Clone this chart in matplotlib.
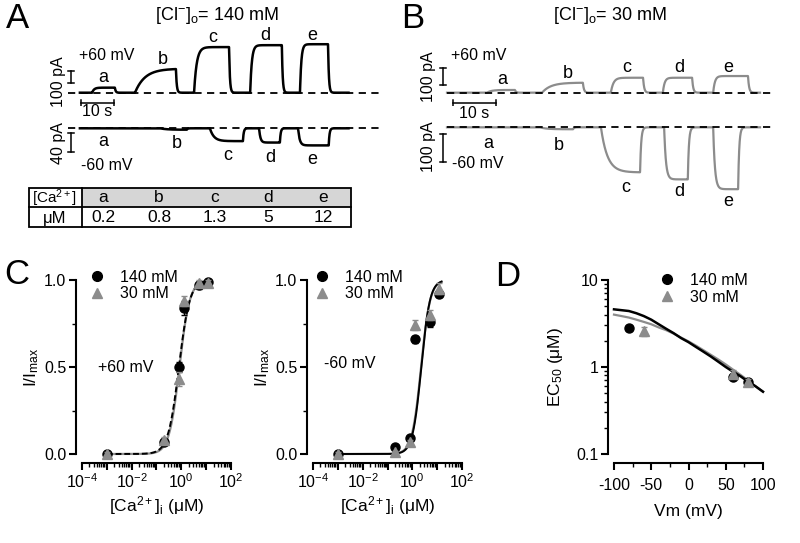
import numpy as np
import matplotlib
matplotlib.use("Agg")
import matplotlib.pyplot as plt
from matplotlib.lines import Line2D
from matplotlib.patches import Rectangle
from matplotlib.ticker import LogLocator, NullFormatter, FixedLocator

plt.rcParams.update({
    "font.family": "Liberation Sans",
    "mathtext.fontset": "custom",
    "mathtext.rm": "Liberation Sans",
    "mathtext.it": "Liberation Sans:italic",
    "mathtext.bf": "Liberation Sans:bold",
    "mathtext.default": "regular",
    "axes.unicode_minus": False,
})

GRAY = "#8c8c8c"
W, H = 800, 543

# ---------------- data ----------------
# current traces: pulses as (t_on s, t_off s, amplitude pA, rise tau s)
A_pos_pulses = [(7.3, 14.2, 42, 0.6), (20.3, 32.7, 200, 3.0), (38.2, 48.8, 380, 0.8),
                (55.2, 64.8, 396, 0.5), (70.3, 78.8, 404, 0.4)]
A_neg_pulses = [(27.9, 36.0, -3, 2.0), (43.0, 53.0, -27, 1.2), (57.9, 64.2, -30, 0.4),
                (69.7, 79.0, -36, 0.5)]
B_pos_pulses = [(9.3, 15.8, 16, 1.0), (22.1, 31.6, 59, 2.0), (38.1, 45.6, 88, 0.6),
                (50.2, 57.0, 88, 0.4), (61.9, 70.0, 98, 0.4)]
B_neg_pulses = [(21.6, 29.3, -7, 1.5), (35.8, 44.9, -161, 1.5), (50.5, 56.0, -186, 0.4),
                (61.9, 67.7, -221, 0.4)]

table_letters = ["a", "b", "c", "d", "e"]
table_conc = ["0.2", "0.8", "1.3", "5", "12"]

# dose response (panel C)
ca_conc = [0.001, 0.2, 0.8, 1.3, 5, 12]
pos_140 = [0.0, 0.07, 0.50, 0.84, 0.97, 0.99]
pos_140_err = [0.01, 0.01, 0.03, 0.04, 0.02, 0.01]
pos_30 = [0.0, 0.08, 0.43, 0.88, 0.98, 0.98]
pos_30_err = [0.01, 0.02, 0.04, 0.03, 0.02, 0.02]
neg_140 = [0.0, 0.04, 0.09, 0.66, 0.76, 0.92]
neg_140_err = [0.01, 0.01, 0.01, 0.02, 0.03, 0.02]
neg_30 = [0.0, 0.01, 0.07, 0.74, 0.80, 0.95]
neg_30_err = [0.01, 0.01, 0.01, 0.03, 0.03, 0.03]
# Hill fit parameters (EC50 uM, n)
fit_pos_140 = (0.80, 2.0)
fit_pos_30 = (0.84, 2.1)
fit_neg_140 = (2.3, 2.5)
fit_neg_30 = (2.25, 2.4)

# EC50 vs voltage (panel D)
vm_140 = [-80, 60, 80]
ec50_140 = [2.8, 0.77, 0.68]
ec50_140_err = [0.15, 0.05, 0.05]
vm_30 = [-60, 60, 80]
ec50_30 = [2.6, 0.84, 0.68]
ec50_30_err = [0.3, 0.08, 0.05]
vm_fit = [-100, -90, -80, -70, -60, -50, -40, -30, -20, -10, 0,
          10, 20, 30, 40, 50, 60, 70, 80, 90, 100]
ec50_fit_140 = [4.6, 4.5, 4.4, 4.15, 3.85, 3.5, 3.1, 2.75, 2.45, 2.15, 1.93,
                1.7, 1.5, 1.32, 1.15, 1.0, 0.88, 0.78, 0.68, 0.6, 0.52]
ec50_fit_30 = [4.0, 3.85, 3.7, 3.5, 3.3, 3.1, 2.85, 2.65, 2.42, 2.18, 1.97,
               1.76, 1.56, 1.38, 1.22, 1.07, 0.93, 0.81, 0.7, 0.6, 0.52]

fig = plt.figure(figsize=(8, 5.43), dpi=100)
canvas = fig.add_axes([0, 0, 1, 1])
canvas.set_xlim(0, W)
canvas.set_ylim(H, 0)
canvas.axis("off")


def px_box(l, t, r, b):
    return [l / W, 1 - b / H, (r - l) / W, (b - t) / H]


def txt(x, y, s, size=11.5, **kw):
    canvas.text(x, y, s, fontsize=size, ha=kw.pop("ha", "center"), va=kw.pop("va", "center"), **kw)


def build_trace(t, pulses, tau_off=0.25):
    y = np.zeros_like(t)
    for on, off, amp, tau in pulses:
        m = (t >= on) & (t < off)
        y[m] += amp * (1 - np.exp(-(t[m] - on) / tau))
        end = amp * (1 - np.exp(-(off - on) / tau))
        m2 = t >= off
        y[m2] += end * np.exp(-(t[m2] - off) / tau_off)
    return y


def trace_axes(x0, base, sx, sy, t_lim, i_lim):
    l = x0 + t_lim[0] * sx
    r = x0 + t_lim[1] * sx
    top = base - i_lim[1] * sy
    bot = base - i_lim[0] * sy
    ax = fig.add_axes(px_box(l, top, r, bot))
    ax.set_xlim(t_lim)
    ax.set_ylim(i_lim)
    ax.axis("off")
    return ax


def vbar(ax, t, i0, i1, sx):
    cap = 3.0 / sx
    ax.plot([t, t], [i0, i1], color="k", lw=1.1)
    for i in (i0, i1):
        ax.plot([t - cap, t + cap], [i, i], color="k", lw=1.1)


def hbar(ax, t0, t1, i, sy):
    cap = 3.0 / sy
    ax.plot([t0, t1], [i, i], color="k", lw=1.1)
    for t in (t0, t1):
        ax.plot([t, t], [i - cap, i + cap], color="k", lw=1.1)


def draw_trace(ax, pulses, t_start, t_end, dash_end, color, lw):
    t = np.linspace(t_start, t_end, 3000)
    ax.plot(t, build_trace(t, pulses), color=color, lw=lw, solid_joinstyle="round")
    ax.plot([0, dash_end], [0, 0], color="k", lw=1.3, ls=(0, (4, 3)))


# ---------------- panel A ----------------
sxA = 3.3
ax = trace_axes(68, 92.7, sxA, 0.12, (-4, 97), (-110, 450))
draw_trace(ax, A_pos_pulses, 3.6, 85, 95.5, "k", 1.8)
vbar(ax, 0.8, 83, 183, sxA)
hbar(ax, 3.9, 13.9, -86, 0.12)
ax = trace_axes(68, 128.3, sxA, 0.475, (-4, 97), (-60, 15))
draw_trace(ax, A_neg_pulses, 3.6, 85, 95.5, "k", 1.8)
vbar(ax, 0.9, -10, -50, sxA)

txt(18, 18, "A", size=25)
txt(217, 15, r"$[\mathrm{Cl}^{-}]_\mathrm{o}$= 140 mM", size=13)
txt(107, 55, "+60 mV")
txt(107, 165, "-60 mV")
txt(58, 82, "100 pA", rotation=90)
txt(58, 143, "40 pA", rotation=90)
txt(97, 111, "10 s")
for s, (x, y) in zip(table_letters, [(103, 77), (163, 59), (213, 38), (265, 35), (312, 36)]):
    txt(x, y, s, size=13)
for s, (x, y) in zip(table_letters, [(103, 142), (177, 143), (228, 155), (270, 157), (312, 160)]):
    txt(x, y, s, size=13)

# ---------------- panel B ----------------
sxB = 4.3
ax = trace_axes(447, 92.7, sxB, 0.17, (-4, 78), (-80, 160))
draw_trace(ax, B_pos_pulses, 0, 72.8, 76.3, GRAY, 1.6)
vbar(ax, -0.93, 45, 145, sxB)
hbar(ax, 1.4, 11.4, -61, 0.17)
ax = trace_axes(447, 127.3, sxB, 0.28, (-4, 78), (-250, 20))
draw_trace(ax, B_neg_pulses, 0, 72.8, 76.3, GRAY, 1.6)
vbar(ax, -0.93, -24, -124, sxB)

txt(413, 18, "B", size=25)
txt(610, 15, r"$[\mathrm{Cl}^{-}]_\mathrm{o}$= 30 mM", size=13)
txt(479, 56, "+60 mV")
txt(478, 164, "-60 mV")
txt(428, 77, "100 pA", rotation=90)
txt(428, 147, "100 pA", rotation=90)
txt(474, 113, "10 s")
for s, (x, y) in zip(table_letters, [(502, 80), (568, 74), (627, 67), (679, 67), (728, 67)]):
    txt(x, y, s, size=13)
for s, (x, y) in zip(table_letters, [(488, 143), (559, 145), (626, 187), (679, 192), (728, 202)]):
    txt(x, y, s, size=13)

# ---------------- table ----------------
canvas.add_patch(Rectangle((82, 188), 269, 19, facecolor="#d6d6d6", edgecolor="none"))
canvas.add_patch(Rectangle((29, 188), 322, 39, facecolor="none", edgecolor="k", lw=1.3))
canvas.plot([29, 351], [207, 207], color="k", lw=1.3)
canvas.plot([82, 82], [188, 227], color="k", lw=1.3)
txt(55, 198, r"[Ca$^{2+}$]", size=11)
txt(55, 218, "μM", size=12)
for s, v, x in zip(table_letters, table_conc, [103, 159, 215, 268, 323]):
    txt(x, 198, s, size=12.5)
    txt(x, 218, v, size=12.5)


# ---------------- panel C / D ----------------
def style(ax):
    for s in ["top", "right"]:
        ax.spines[s].set_visible(False)
    for s in ["left", "bottom"]:
        ax.spines[s].set_linewidth(1.5)
    ax.spines["left"].set_position(("outward", 4.3))
    ax.spines["bottom"].set_position(("outward", 6.5))
    ax.tick_params(which="major", length=5, width=1.5, direction="out", labelsize=11.5, pad=2)
    ax.tick_params(which="minor", length=3, width=1, direction="out")
    ax.patch.set_visible(False)


def hill(x, ec50, n):
    return 1.0 / (1.0 + (ec50 / x) ** n)


def dose_panel(box, y140, e140, y30, e30, fit140, fit30, vtxt, dashed):
    ax = fig.add_axes(px_box(*box))
    style(ax)
    ax.set_xscale("log")
    ax.set_xlim(1e-4, 1e2)
    ax.set_ylim(0, 1)
    xf = np.logspace(-3, np.log10(15), 300)
    ax.plot(xf, hill(xf, *fit30), color=GRAY, lw=1.6, clip_on=False)
    ax.plot(xf, hill(xf, *fit140), color="k", lw=1.4, ls=(0, (3, 1.5)) if dashed else "-", clip_on=False)
    ax.errorbar(ca_conc, y140, yerr=e140, fmt="o", color="k", ms=6.5, capsize=2,
                elinewidth=1, clip_on=False, zorder=3)
    ax.errorbar(ca_conc, y30, yerr=e30, fmt="^", color=GRAY, ms=7, capsize=2,
                elinewidth=1, clip_on=False, zorder=4)
    ax.set_yticks([0, 0.5, 1.0])
    ax.set_yticklabels(["0.0", "0.5", "1.0"])
    ax.yaxis.set_minor_locator(FixedLocator([0.25, 0.75]))
    ax.set_xticks([1e-4, 1e-3, 1e-2, 1e-1, 1e0, 1e1, 1e2])
    ax.set_xticklabels([r"$10^{-4}$", "", r"$10^{-2}$", "", r"$10^{0}$", "", r"$10^{2}$"])
    ax.xaxis.set_minor_locator(LogLocator(base=10, subs=np.arange(2, 10), numticks=20))
    ax.xaxis.set_minor_formatter(NullFormatter())
    ax.spines["left"].set_bounds(0, 1)
    ax.spines["bottom"].set_bounds(1e-4, 1e2)
    ax.set_xlabel("[Ca$^{2+}$]$_i$ (μM)", fontsize=12.5, labelpad=2)
    ax.set_ylabel("I/I$_{max}$", fontsize=12.5, labelpad=2)
    ax.text(vtxt[0], vtxt[1], vtxt[2], transform=ax.transAxes, fontsize=11.5, ha="center", va="center")
    return ax


def add_legend(ax, x, y):
    handles = [Line2D([], [], marker="o", color="k", ls="none", ms=7),
               Line2D([], [], marker="^", color=GRAY, ls="none", ms=7.5)]
    ax.legend(handles, ["140 mM", "30 mM"], loc="upper left", bbox_to_anchor=(x, y),
              frameon=False, handlelength=1.0, handletextpad=0.9, labelspacing=0.1,
              fontsize=11.5, borderpad=0, borderaxespad=0)


axC1 = dose_panel((82, 280, 231, 454), pos_140, pos_140_err, pos_30, pos_30_err,
                  fit_pos_140, fit_pos_30, (0.295, 0.5, "+60 mV"), True)
add_legend(axC1, 0.05, 1.06)
axC2 = dose_panel((313, 280, 462, 454), neg_140, neg_140_err, neg_30, neg_30_err,
                  fit_neg_140, fit_neg_30, (0.25, 0.52, "-60 mV"), False)
add_legend(axC2, 0.01, 1.06)
txt(17, 275, "C", size=25)
txt(508, 277, "D", size=25)

axD = fig.add_axes(px_box(614, 280, 763, 454))
style(axD)
axD.set_yscale("log")
axD.set_xlim(-100, 100)
axD.set_ylim(0.1, 10)
axD.plot(vm_fit, ec50_fit_30, color=GRAY, lw=1.6, clip_on=False)
axD.plot(vm_fit, ec50_fit_140, color="k", lw=1.8, clip_on=False)
axD.errorbar(vm_140, ec50_140, yerr=ec50_140_err, fmt="o", color="k", ms=6.5, capsize=2,
             elinewidth=1, clip_on=False, zorder=3)
axD.errorbar(vm_30, ec50_30, yerr=ec50_30_err, fmt="^", color=GRAY, ms=7, capsize=2,
             elinewidth=1, clip_on=False, zorder=4)
axD.set_xticks([-100, -50, 0, 50, 100])
axD.xaxis.set_minor_locator(FixedLocator([-75, -25, 25, 75]))
axD.set_yticks([0.1, 1, 10])
axD.set_yticklabels(["0.1", "1", "10"])
axD.yaxis.set_minor_locator(LogLocator(base=10, subs=np.arange(2, 10), numticks=10))
axD.yaxis.set_minor_formatter(NullFormatter())
axD.spines["left"].set_bounds(0.1, 10)
axD.spines["bottom"].set_bounds(-100, 100)
axD.tick_params(axis="x", which="major", pad=6)
axD.set_xlabel("Vm (mV)", fontsize=12.5, labelpad=8)
axD.set_ylabel("EC$_{50}$ (μM)", fontsize=12.5, labelpad=8)
add_legend(axD, 0.305, 1.04)

fig.savefig("out.png", dpi=100)
